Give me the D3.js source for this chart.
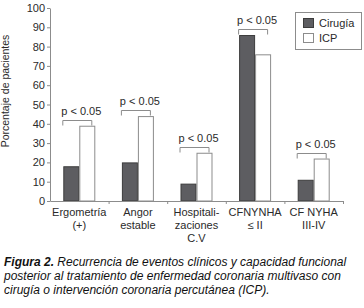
<!DOCTYPE html>
<html>
<head>
<meta charset="utf-8">
<script src="https://cdn.jsdelivr.net/npm/d3@7"></script>
<style>
  body { margin: 0; background: #fff; }
  text { font-family: "Liberation Sans", Arial, Helvetica, sans-serif; }
</style>
</head>
<body>
<div id="chart"></div>
<script>
// data
const categories = ["Ergometría (+)", "Angor estable", "Hospitalizaciones C.V", "CFNYNHA ≤ II", "CF NYHA III-IV"];
const categoryLines = [["Ergometría", "(+)"], ["Angor", "estable"], ["Hospitali-", "zaciones", "C.V"], ["CFNYNHA", "≤ II"], ["CF NYHA", "III-IV"]];
const series = ["Cirugía", "ICP"];
const cirugia = [18, 20, 9, 86, 11];
const icp = [39, 44, 25, 76, 22];
const pLabels = ["p < 0.05", "p < 0.05", "p < 0.05", "p < 0.05", "p < 0.05"];
const yTicks = [0, 10, 20, 30, 40, 50, 60, 70, 80, 90, 100];
const yLabel = "Porcentaje de pacientes";
const captionLines = [
  ["Figura 2.", " Recurrencia de eventos clínicos y capacidad funcional"],
  ["", "posterior al tratamiento de enfermedad coronaria multivaso con"],
  ["", "cirugía o intervención coronaria percutánea (ICP)."]
];

const W = 364, H = 308;
const colors = {"Cirugía": "#5d5d61", "ICP": "#ffffff"};
const strokes = {"Cirugía": "#3c3c3c", "ICP": "#8c8c8c"};
const axisColor = "#8c8c8c", textColor = "#2a2a2a";

const svg = d3.select("#chart").append("svg")
  .attr("width", W).attr("height", H);

const y = d3.scaleLinear().domain([0, 100]).range([201, 8]);
const x0 = d3.scaleBand().domain(categories).range([50, 343])
  .paddingInner(0.454).paddingOuter(0.227);
const x1 = d3.scaleBand().domain(series).range([0, x0.bandwidth()]);
const edge = d3.scaleLinear().domain([0, categories.length]).range([50, 343]);

const rows = categories.map((c, i) => ({cat: c, values: {"Cirugía": cirugia[i], "ICP": icp[i]}}));

// y axis
const yAxis = svg.append("g")
  .attr("transform", "translate(50,0)")
  .call(d3.axisLeft(y).tickValues(yTicks).tickSize(3).tickSizeOuter(0).tickPadding(2));
yAxis.selectAll("path, line").attr("stroke", axisColor);
yAxis.selectAll("text").attr("fill", textColor).style("font-size", "11px");

svg.append("text")
  .attr("transform", "translate(9,91) rotate(-90)")
  .attr("text-anchor", "middle")
  .attr("fill", textColor)
  .style("font-size", "10.5px")
  .text(yLabel);

// bars
const groups = svg.append("g").selectAll("g").data(rows).join("g")
  .attr("transform", d => `translate(${x0(d.cat)},0)`);
groups.selectAll("rect").data(d => series.map(s => ({s, v: d.values[s]}))).join("rect")
  .attr("x", d => x1(d.s) + 0.5)
  .attr("y", d => y(d.v) + 0.5)
  .attr("width", x1.bandwidth() - 1)
  .attr("height", d => y(0) - y(d.v) - 0.5)
  .attr("fill", d => colors[d.s])
  .attr("stroke", d => strokes[d.s]);

// x axis: ticks sit on category boundaries
const xAxis = svg.append("g")
  .attr("transform", "translate(0,201)")
  .call(d3.axisBottom(edge).tickValues([1, 2, 3, 4, 5]).tickFormat("").tickSize(3).tickSizeOuter(0));
xAxis.selectAll("path, line").attr("stroke", axisColor);

const xl = svg.append("g").selectAll("text").data(categories).join("text")
  .attr("text-anchor", "middle")
  .attr("fill", textColor)
  .style("font-size", "11px")
  .attr("x", d => x0(d) + x0.bandwidth() / 2);
xl.each(function(d, i) {
  d3.select(this).selectAll("tspan").data(categoryLines[i]).join("tspan")
    .attr("x", x0(d) + x0.bandwidth() / 2)
    .attr("y", (t, j) => 215.5 + j * 13)
    .text(t => t);
});

// significance brackets
const br = svg.append("g").selectAll("g").data(rows).join("g");
br.each(function(d, i) {
  const g = d3.select(this);
  const cx = x0(d.cat) + x0.bandwidth() / 2;
  const top = Math.round(y(Math.max(cirugia[i], icp[i]))) - 6 + 0.5;
  g.append("path")
    .attr("d", `M${cx - 16.5},${top + 5}V${top}H${cx + 12.5}V${top + 5}`)
    .attr("fill", "none").attr("stroke", axisColor);
  g.append("text")
    .attr("x", cx + 2).attr("y", top - 6)
    .attr("text-anchor", "middle")
    .attr("fill", textColor)
    .style("font-size", "11px")
    .text(pLabels[i]);
});

// legend
const lg = svg.append("g");
lg.append("rect").attr("x", 295.5).attr("y", 12.5).attr("width", 66).attr("height", 37)
  .attr("fill", "#fff").attr("stroke", axisColor);
series.forEach((s, i) => {
  lg.append("rect").attr("x", 303.5).attr("y", 18.5 + i * 15).attr("width", 10).attr("height", 9)
    .attr("fill", colors[s]).attr("stroke", strokes[s]);
  lg.append("text").attr("x", 319).attr("y", 26.5 + i * 15)
    .attr("fill", textColor).style("font-size", "11px").text(s);
});

// caption
const cap = svg.append("g");
captionLines.forEach((ln, i) => {
  const t = cap.append("text").attr("x", 4).attr("y", 266 + i * 14)
    .attr("fill", "#111").style("font-size", "12px").style("font-style", "italic");
  if (ln[0]) t.append("tspan").style("font-weight", "bold").text(ln[0]);
  t.append("tspan").text(ln[1]);
});
</script>
</body>
</html>
